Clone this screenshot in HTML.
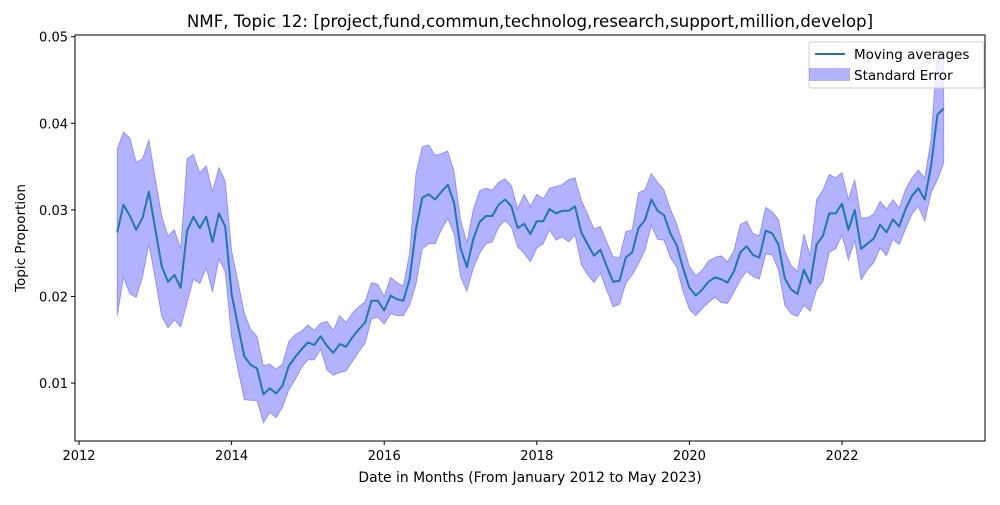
<!DOCTYPE html>
<html><head><meta charset="utf-8"><style>
html,body{margin:0;padding:0;background:#fff;}
svg text{font-family:"DejaVu Sans","Liberation Sans",sans-serif;fill:#000;}
</style></head><body>
<svg id="chart" width="1000" height="500" xmlns="http://www.w3.org/2000/svg">
<rect x="0" y="0" width="1000" height="500" fill="#fff"/>
<text x="530" y="27" font-size="16.7" text-anchor="middle">NMF, Topic 12: [project,fund,commun,technolog,research,support,million,develop]</text>
<g id="band"></g>
<g id="line"></g>
<g id="axes"></g>
<text x="530" y="482" font-size="13.9" text-anchor="middle">Date in Months (From January 2012 to May 2023)</text>
<text transform="translate(25,238) rotate(-90)" font-size="13.5" text-anchor="middle">Topic Proportion</text>
<g>
<rect x="809" y="42" width="175" height="46" rx="2" fill="#fff" fill-opacity="0.8" stroke="#ccc"/>
<line x1="815" y1="54" x2="845" y2="54" stroke="#1f77b4" stroke-width="2"/>
<text x="854" y="59" font-size="13.5">Moving averages</text>
<rect x="809" y="68" width="41" height="13" fill="#0000ff" fill-opacity="0.3"/>
<text x="854" y="80" font-size="13.5">Standard Error</text>
</g>
</svg>
<script>
const startYear = 2012.5;
const means = [0.0274,0.0306,0.0293,0.0277,0.0291,0.0321,0.0278,0.0235,0.0217,0.0225,0.0210,0.0276,0.0292,0.0279,0.0292,0.0263,0.0296,0.0281,0.0203,0.0166,0.0131,0.0121,0.0117,0.0087,0.0094,0.0088,0.0097,0.0120,0.0130,0.0139,0.0147,0.0144,0.0154,0.0143,0.0135,0.0145,0.0142,0.0153,0.0162,0.0170,0.0195,0.0195,0.0184,0.0201,0.0197,0.0195,0.0220,0.0278,0.0314,0.0318,0.0312,0.0321,0.0329,0.0308,0.0256,0.0234,0.0266,0.0286,0.0293,0.0293,0.0306,0.0312,0.0304,0.0279,0.0284,0.0272,0.0287,0.0287,0.0301,0.0296,0.0299,0.0299,0.0304,0.0274,0.0260,0.0247,0.0254,0.0235,0.0217,0.0218,0.0245,0.0251,0.0279,0.0288,0.0312,0.0299,0.0294,0.0273,0.0259,0.0233,0.0210,0.0201,0.0208,0.0217,0.0222,0.0220,0.0216,0.0229,0.0251,0.0258,0.0248,0.0245,0.0276,0.0273,0.0260,0.0221,0.0208,0.0203,0.0231,0.0215,0.0260,0.0270,0.0296,0.0296,0.0307,0.0277,0.0300,0.0255,0.0261,0.0267,0.0283,0.0274,0.0289,0.0281,0.0301,0.0316,0.0325,0.0312,0.0350,0.0410,0.0417];
const stderrs = [0.0096,0.0084,0.0090,0.0078,0.0068,0.0060,0.0058,0.0058,0.0053,0.0052,0.0045,0.0083,0.0072,0.0064,0.0059,0.0058,0.0053,0.0052,0.0050,0.0051,0.0050,0.0041,0.0037,0.0033,0.0028,0.0028,0.0025,0.0028,0.0026,0.0021,0.0020,0.0017,0.0015,0.0028,0.0026,0.0033,0.0028,0.0028,0.0026,0.0024,0.0021,0.0019,0.0016,0.0021,0.0019,0.0017,0.0030,0.0064,0.0059,0.0057,0.0051,0.0044,0.0039,0.0036,0.0033,0.0028,0.0034,0.0036,0.0032,0.0030,0.0026,0.0024,0.0024,0.0022,0.0034,0.0032,0.0031,0.0026,0.0024,0.0031,0.0030,0.0036,0.0033,0.0037,0.0035,0.0031,0.0027,0.0028,0.0029,0.0027,0.0030,0.0026,0.0041,0.0035,0.0030,0.0033,0.0029,0.0028,0.0025,0.0027,0.0025,0.0023,0.0022,0.0024,0.0023,0.0027,0.0024,0.0024,0.0032,0.0029,0.0025,0.0025,0.0027,0.0025,0.0029,0.0031,0.0028,0.0026,0.0041,0.0032,0.0052,0.0053,0.0045,0.0041,0.0036,0.0035,0.0035,0.0036,0.0030,0.0028,0.0027,0.0027,0.0023,0.0021,0.0023,0.0021,0.0021,0.0025,0.0031,0.0075,0.0063];
const xTicks = [2012,2014,2016,2018,2020,2022];
const yTicks = [0.01,0.02,0.03,0.04,0.05];

const L=75,R=985,T=35,B=441;
function xs(yr){return 79+(yr-2012)*76.3;}
function ys(v){return 36.7+(0.05-v)*8660;}
const NS="http://www.w3.org/2000/svg";
function mk(tag,attrs,parent){const e=document.createElementNS(NS,tag);for(const k in attrs)e.setAttribute(k,attrs[k]);parent.appendChild(e);return e;}

const band=document.getElementById('band');
let up=[],lo=[];
means.forEach((m,i)=>{const x=xs(startYear+i/12);up.push(x.toFixed(1)+','+ys(m+stderrs[i]).toFixed(1));lo.unshift(x.toFixed(1)+','+ys(m-stderrs[i]).toFixed(1));});
const poly=mk('polygon',{points:up.concat(lo).join(' '),fill:'#0000ff','fill-opacity':'0.3',stroke:'#0000ff','stroke-opacity':'0.3','stroke-width':'1'},band);



const line=document.getElementById('line');
const pl=mk('polyline',{points:means.map((m,i)=>xs(startYear+i/12).toFixed(1)+','+ys(m).toFixed(1)).join(' '),fill:'none',stroke:'#1f77b4','stroke-width':'2','stroke-linejoin':'round'},line);



const axes=document.getElementById('axes');
const fr=mk('rect',{x:L,y:T,width:R-L,height:B-T,fill:'none',stroke:'#000','stroke-width':'1'},axes);


xTicks.forEach(t=>{const x=xs(t);
 const tk=mk('line',{x1:x,y1:B,x2:x,y2:B+4,stroke:'#000'},axes);
 
 
 const tx=mk('text',{x:x,y:B+19,'font-size':'13','text-anchor':'middle'},axes);tx.textContent=t;
 
 
});
yTicks.forEach(t=>{const y=ys(t);
 const tk=mk('line',{x1:L-4,y1:y,x2:L,y2:y,stroke:'#000'},axes);
 
 
 const tx=mk('text',{x:L-7,y:y+5,'font-size':'13','text-anchor':'end'},axes);tx.textContent=t.toFixed(2);
 
 
});
</script>
</body></html>
